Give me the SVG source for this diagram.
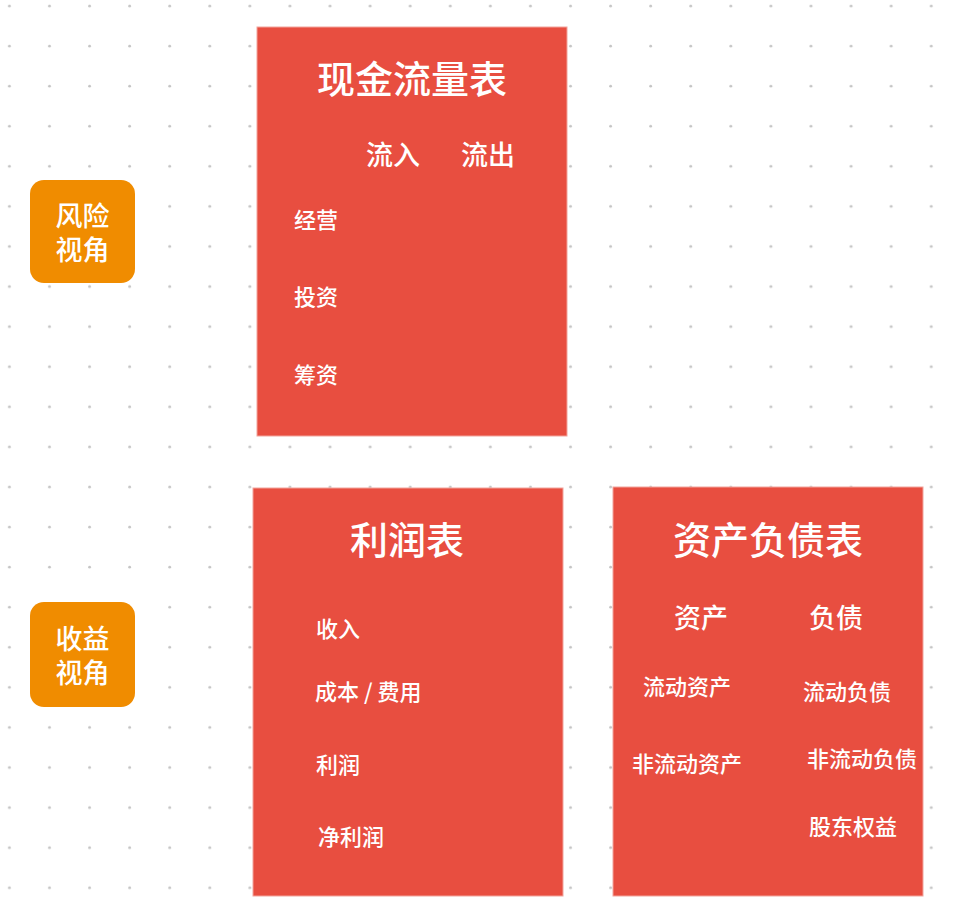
<svg xmlns="http://www.w3.org/2000/svg" width="960" height="924" viewBox="0 0 960 924">
<style>
text{font-family:"Noto Sans CJK SC","Noto Sans",sans-serif;fill:#ffffff;font-weight:500}
.card{fill:#E84E40;stroke:#F2A49C;stroke-width:1}
.tag{fill:#F08C00}
.title{font-size:38px;text-anchor:middle}
.head{font-size:27px}
.item{font-size:22px}
.tagt{font-size:27px;text-anchor:middle}
</style>
<defs>
<pattern id="dots" patternUnits="userSpaceOnUse" x="0" y="0" width="40.08" height="40.08">
<circle cx="9.4" cy="6" r="1.4" fill="#C4C4C4"/>
</pattern>
</defs>
<rect width="960" height="924" fill="#ffffff"/>
<rect width="960" height="924" fill="url(#dots)"/>
<g id="connectors"></g>
<g id="risk-view">
<rect class="tag" x="30" y="180" width="105" height="103" rx="14"/>
<text class="tagt" x="82.5" y="226">风险</text>
<text class="tagt" x="82.5" y="260">视角</text>
</g>
<g id="return-view">
<rect class="tag" x="30" y="602" width="105" height="105" rx="14"/>
<text class="tagt" x="82.5" y="649">收益</text>
<text class="tagt" x="82.5" y="683">视角</text>
</g>
<g id="cash-flow">
<rect class="card" x="257" y="27" width="310" height="409"/>
<text class="title" x="412" y="93">现金流量表</text>
<text class="head" x="366" y="165">流入</text>
<text class="head" x="461" y="165">流出</text>
<text class="item" x="294" y="228">经营</text>
<text class="item" x="294" y="305">投资</text>
<text class="item" x="294" y="383">筹资</text>
</g>
<g id="income">
<rect class="card" x="253" y="488" width="310" height="408"/>
<text class="title" x="407" y="554">利润表</text>
<text class="item" x="316" y="637">收入</text>
<text class="item" x="315" y="700">成本 / 费用</text>
<text class="item" x="316" y="773">利润</text>
<text class="item" x="318" y="845">净利润</text>
</g>
<g id="balance">
<rect class="card" x="613" y="487" width="310" height="409"/>
<text class="title" x="768" y="554">资产负债表</text>
<text class="head" x="674" y="628">资产</text>
<text class="head" x="809" y="628">负债</text>
<text class="item" x="643" y="695">流动资产</text>
<text class="item" x="803" y="700">流动负债</text>
<text class="item" x="632" y="772">非流动资产</text>
<text class="item" x="807" y="767">非流动负债</text>
<text class="item" x="809" y="835">股东权益</text>
</g>
</svg>
